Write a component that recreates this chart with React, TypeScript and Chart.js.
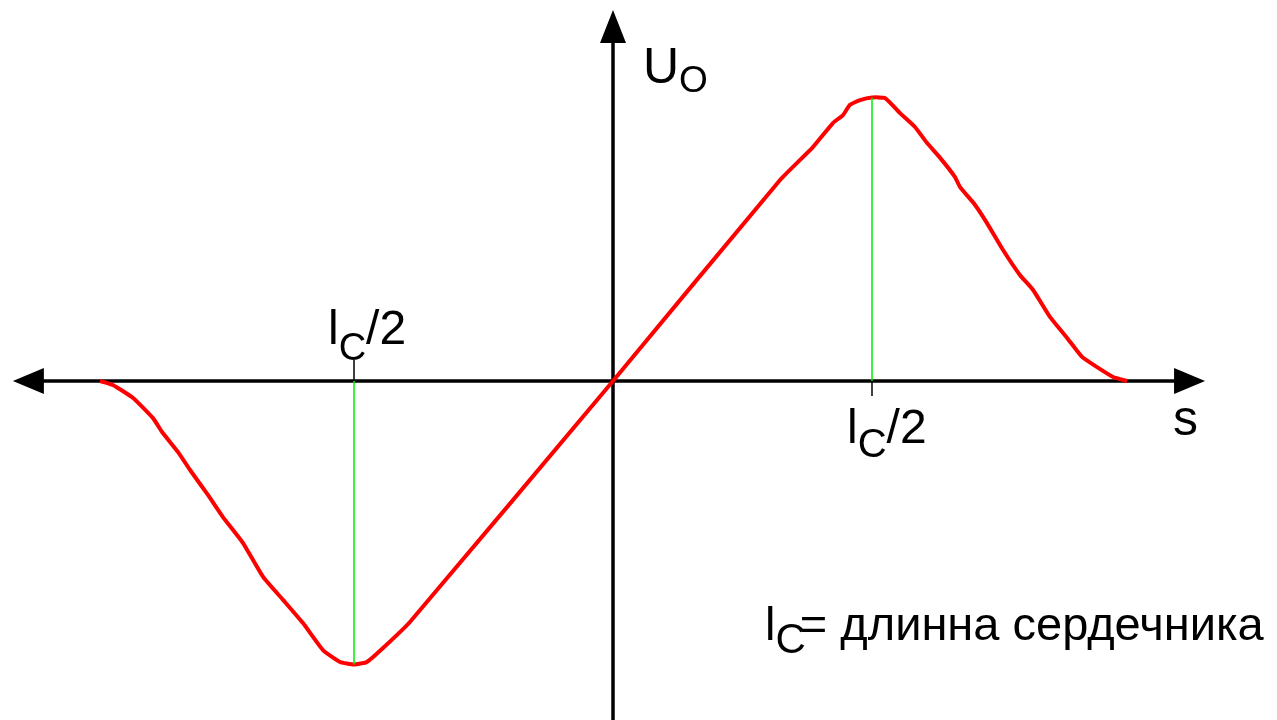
import React, { useEffect, useRef } from "react";
import { Chart, registerables } from "chart.js";

Chart.register(...registerables);

// Curve: s (in units of l_C/2) vs U_O (in units of its peak)
const curveS = [
  -1.981, -1.931, -1.853, -1.776, -1.741, -1.68, -1.633, -1.564, -1.506, -1.429,
  -1.351, -1.274, -1.197, -1.12, -1.054, -1.0, -0.95, -0.888, -0.784, 0,
  0.645, 0.772, 0.849, 0.888, 0.915, 0.954, 1.0, 1.05, 1.108, 1.166,
  1.212, 1.263, 1.32, 1.34, 1.398, 1.444, 1.506, 1.571, 1.622, 1.687,
  1.753, 1.811, 1.869, 1.931, 1.985,
];
const curveU = [
  0, -0.014, -0.06, -0.131, -0.18, -0.25, -0.314, -0.402, -0.48, -0.571,
  -0.691, -0.772, -0.854, -0.949, -0.991, -1.0, -0.991, -0.942, -0.85, 0,
  0.709, 0.825, 0.91, 0.938, 0.974, 0.991, 1.0, 0.998, 0.945, 0.896,
  0.84, 0.787, 0.72, 0.684, 0.621, 0.557, 0.462, 0.374, 0.321, 0.226,
  0.152, 0.085, 0.049, 0.014, 0,
];

// Peak markers (green guide lines) at ±l_C/2
const peakS = [-1, 1];
const peakU = [-1, 1];

// Axis extents (arrow tips) and view window
const axisS = [-2.317, 2.286];
const axisU = [-1.2, 1.309];
const viewS = [-2.3668, 2.5637];
const viewU = [-1.1958, 1.3439];

// Texts
const peakLabelMain = "l";
const peakLabelSub = "C";
const peakLabelRest = "/2";
const yAxisMain = "U";
const yAxisSub = "O";
const xAxisLabel = "s";
const noteMain = "l";
const noteSub = "C";
const noteRest = "= длинна сердечника";

const FONT = '"Liberation Sans", Arial, sans-serif';

function drawSub(
  ctx: CanvasRenderingContext2D,
  x: number,
  base: number,
  main: string,
  sub: string,
  rest: string,
  mainSize: number,
  subSize: number,
  drop: number,
  gap = 0
) {
  ctx.font = `${mainSize}px ${FONT}`;
  ctx.fillText(main, x, base);
  let cx = x + ctx.measureText(main).width;
  ctx.font = `${subSize}px ${FONT}`;
  ctx.fillText(sub, cx, base + drop);
  cx += ctx.measureText(sub).width + gap;
  if (rest) {
    ctx.font = `${mainSize}px ${FONT}`;
    ctx.fillText(rest, cx, base);
  }
}

const axesPlugin = {
  id: "axesArrows",
  beforeDatasetsDraw(chart: any) {
    const { ctx, scales } = chart;
    const xs = scales.x;
    const ys = scales.y;
    const x0 = xs.getPixelForValue(0);
    const y0 = ys.getPixelForValue(0);
    const L = 31;
    const W = 13;
    ctx.save();
    ctx.strokeStyle = "#000";
    ctx.fillStyle = "#000";
    ctx.lineWidth = 3.5;
    // x axis
    const xl = xs.getPixelForValue(axisS[0]);
    const xr = xs.getPixelForValue(axisS[1]);
    ctx.beginPath();
    ctx.moveTo(xl + L - 2, y0);
    ctx.lineTo(xr - L + 2, y0);
    ctx.stroke();
    ctx.beginPath();
    ctx.moveTo(xl, y0);
    ctx.lineTo(xl + L, y0 - W);
    ctx.lineTo(xl + L, y0 + W);
    ctx.closePath();
    ctx.fill();
    ctx.beginPath();
    ctx.moveTo(xr, y0);
    ctx.lineTo(xr - L, y0 - W);
    ctx.lineTo(xr - L, y0 + W);
    ctx.closePath();
    ctx.fill();
    // y axis
    const yt = ys.getPixelForValue(axisU[1]);
    const yb = ys.getPixelForValue(axisU[0]);
    ctx.beginPath();
    ctx.moveTo(x0, yb);
    ctx.lineTo(x0, yt + L - 2);
    ctx.stroke();
    ctx.beginPath();
    ctx.moveTo(x0, yt);
    ctx.lineTo(x0 - W, yt + 33);
    ctx.lineTo(x0 + W, yt + 33);
    ctx.closePath();
    ctx.fill();
    // ticks at ±l_C/2
    ctx.lineWidth = 1.5;
    const tl = xs.getPixelForValue(peakS[0]);
    const tr = xs.getPixelForValue(peakS[1]);
    ctx.beginPath();
    ctx.moveTo(tl, y0);
    ctx.lineTo(tl, y0 - 21);
    ctx.moveTo(tr, y0);
    ctx.lineTo(tr, y0 + 15);
    ctx.stroke();
    ctx.restore();
  },
  afterDatasetsDraw(chart: any) {
    const { ctx, scales } = chart;
    const xs = scales.x;
    const ys = scales.y;
    const x0 = xs.getPixelForValue(0);
    const y0 = ys.getPixelForValue(0);
    const tl = xs.getPixelForValue(peakS[0]);
    const tr = xs.getPixelForValue(peakS[1]);
    ctx.save();
    ctx.fillStyle = "#000";
    ctx.textAlign = "left";
    ctx.textBaseline = "alphabetic";
    drawSub(ctx, tl - 26, y0 - 37, peakLabelMain, peakLabelSub, peakLabelRest, 48, 38, 16, 0);
    drawSub(ctx, tr - 25, y0 + 62, peakLabelMain, peakLabelSub, peakLabelRest, 48, 40, 14, 0);
    drawSub(ctx, x0 + 30, 83, yAxisMain, yAxisSub, "", 50, 37, 9);
    ctx.font = `50px ${FONT}`;
    ctx.fillText(xAxisLabel, 1173, y0 + 54);
    drawSub(ctx, 765, 640, noteMain, noteSub, noteRest, 47, 42, 13, -6);
    ctx.restore();
  },
};

export default function App() {
  const ref = useRef<HTMLCanvasElement | null>(null);
  useEffect(() => {
    if (!ref.current) return;
    const pts = curveS.map((s, i) => ({ x: s, y: curveU[i] }));
    const chart = new Chart(ref.current, {
      type: "scatter",
      data: {
        datasets: [
          {
            data: [
              { x: peakS[0], y: 0 },
              { x: peakS[0], y: peakU[0] },
            ],
            showLine: true,
            borderColor: "#00ee00",
            borderWidth: 1.5,
            pointRadius: 0,
          },
          {
            data: [
              { x: peakS[1], y: 0 },
              { x: peakS[1], y: peakU[1] },
            ],
            showLine: true,
            borderColor: "#00ee00",
            borderWidth: 1.5,
            pointRadius: 0,
          },
          {
            data: pts,
            showLine: true,
            borderColor: "#ff0000",
            borderWidth: 4,
            pointRadius: 0,
            tension: 0.15,
          },
        ],
      },
      options: {
        animation: false,
        responsive: false,
        maintainAspectRatio: false,
        devicePixelRatio: 1,
        layout: { padding: 0 },
        events: [],
        plugins: { legend: { display: false }, tooltip: { enabled: false } },
        scales: {
          x: { type: "linear", display: false, min: viewS[0], max: viewS[1] },
          y: { type: "linear", display: false, min: viewU[0], max: viewU[1] },
        },
      },
      plugins: [axesPlugin],
    });
    return () => chart.destroy();
  }, []);
  return (
    <div style={{ position: "fixed", left: 0, top: 0, width: 1277, height: 720, background: "#fff" }}>
      <canvas ref={ref} width={1277} height={720} style={{ display: "block" }} />
    </div>
  );
}
